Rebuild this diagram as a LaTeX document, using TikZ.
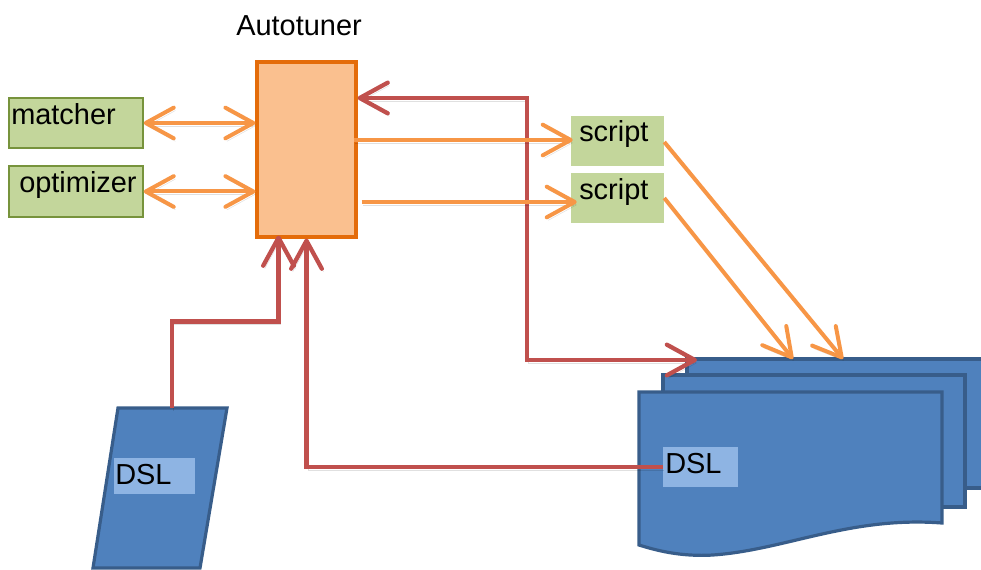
\documentclass[tikz,border=0pt]{standalone}
\usepackage{fontspec}
\setmainfont{Liberation Sans}
\usetikzlibrary{arrows.meta,calc,fit}

\definecolor{arrorange}{HTML}{F79646}
\definecolor{arrred}{HTML}{C0504D}
\definecolor{tunefill}{HTML}{FAC08F}
\definecolor{tuneline}{HTML}{E46C0A}
\definecolor{greenfill}{HTML}{C3D69B}
\definecolor{greenline}{HTML}{77933C}
\definecolor{docfill}{HTML}{4F81BD}
\definecolor{docline}{HTML}{385D8A}
\definecolor{tagfill}{HTML}{8EB4E3}

\begin{document}
\begin{tikzpicture}[x=0.75pt,y=-0.75pt,
  lbl/.style={anchor=base west,inner sep=0pt,font=\fontsize{21.7}{26}\selectfont},
  tunebox/.style={draw=tuneline,fill=tunefill,line width=2.4pt,inner sep=0pt},
  greenbox/.style={draw=greenline,fill=greenfill,line width=1.1pt,inner sep=0pt},
  scriptbox/.style={fill=greenfill,inner sep=0pt},
  doc/.style={draw=docline,fill=docfill,line width=2.4pt,line join=miter},
  tagbox/.style={fill=tagfill,inner sep=0pt},
  barb/.tip={Straight Barb[length=21pt,width=23pt,round]},
  softshadow/.style={preaction={draw=black,draw opacity=0.12,
    transform canvas={xshift=1.2pt,yshift=-2.2pt}}},
  oarr/.style={draw=arrorange,line width=3pt,arrows={barb-barb},softshadow},
  rarr/.style={draw=arrred,line width=3.2pt,line join=miter,softshadow},
]
\useasboundingbox (0,0) rectangle (981,570);

% stacked documents
\begin{scope}
  \clip (0,0) rectangle (981,570);
  \draw[doc] (687,359) -- (995,359) -- (995,488) -- (687,488) -- cycle;
\end{scope}
\draw[doc] (663,375) -- (965,375) -- (965,507) -- (663,507) -- cycle;
\draw[doc] (639,392) -- (942,392) -- (942,523)
  .. controls (850,516) and (785,550) .. (713,555)
  .. controls (680,557) and (655,550) .. (639,545) -- cycle;
\node[tagbox,fit={(663,447)(738,487)}] (dslR) {};
\node[lbl] (dslRt) at (665,473) {DSL};

% single DSL sheet
\draw[doc] (118,408) -- (227,408) -- (200,568) -- (93,568) -- cycle;
\coordinate (ptop) at (172,408);
\node[tagbox,fit={(114,458)(195,494)}] (dslL) {};
\node[lbl] (dslLt) at (115,484) {DSL};

% autotuner
\node[tunebox,fit={(257,62)(356,237)}] (auto) {};
\node[lbl] (autot) at (236,36) {Autotuner};

% side boxes
\node[greenbox,fit={(9,98)(143,148)}] (matcher) {};
\node[lbl] (matchert) at (11,125) {matcher};
\node[greenbox,fit={(9,166)(143,217)}] (optim) {};
\node[lbl] (optimt) at (19,193) {optimizer};

\node[scriptbox,fit={(571,116)(664,166)}] (script1) {};
\node[lbl] (script1t) at (579,142) {script};
\node[scriptbox,fit={(571,173)(664,223)}] (script2) {};
\node[lbl] (script2t) at (579,200) {script};

% red feedback connectors
\coordinate (rtop) at (527,98);
\coordinate (rbot) at (527,360);
\coordinate (stackin) at (697,360);
\draw[rarr,arrows={barb-barb}] (auto.east |- rtop) -- (rtop) -- (rbot) -- (stackin);
\draw[rarr,arrows={-barb}] (ptop) |- ($(auto.south)+(-28,83)$) -- ($(auto.south)+(-28,-3)$);
\draw[rarr,arrows={-barb}] (dslR.west) -| (auto.south);

% orange connectors
\draw[oarr] (matcher.east) -- (auto.west |- matcher.east);
\draw[oarr] (optim.east) -- (auto.west |- optim.east);
\coordinate (s1in) at ($(script1.west)+(2,-1)$);
\coordinate (s2in) at ($(script2.west)+(6,4)$);
\draw[oarr,arrows={-barb}] ($(auto.east |- s1in)+(-4,0)$) -- (s1in);
\draw[oarr,arrows={-barb}] ($(auto.east |- s2in)+(4,0)$) -- (s2in);
\coordinate (d1) at (843,359);
\coordinate (d2) at (793,359);
\draw[oarr,arrows={-barb}] ($(script1.east)+(0,1)$) -- (d1);
\draw[oarr,arrows={-barb}] (script2.east) -- (d2);
\end{tikzpicture}
\end{document}
